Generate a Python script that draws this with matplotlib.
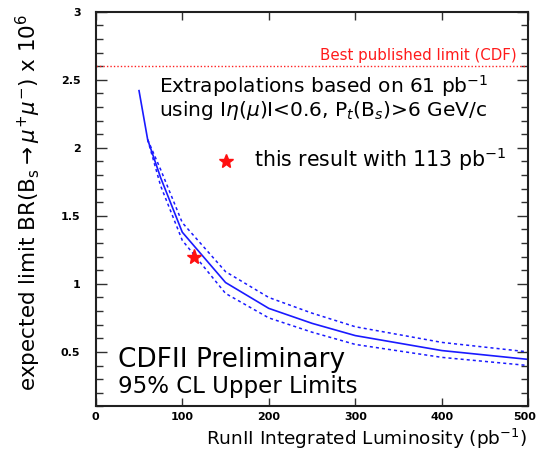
import matplotlib
matplotlib.use("Agg")
import matplotlib.pyplot as plt
import matplotlib.transforms as mtransforms
from matplotlib.ticker import MultipleLocator

# Data
lumi_central = [50, 60, 75, 100, 150, 200, 250, 300, 400, 500]
limit_central = [2.42, 2.06, 1.78, 1.38, 1.01, 0.82, 0.71, 0.62, 0.51, 0.445]
lumi_band = [60, 75, 100, 150, 200, 250, 300, 400, 500]
limit_upper = [2.06, 1.84, 1.45, 1.09, 0.90, 0.785, 0.685, 0.57, 0.50]
limit_lower = [2.06, 1.72, 1.32, 0.93, 0.75, 0.645, 0.555, 0.46, 0.40]
result_lumi = [113]
result_limit = [1.20]
best_published = 2.6

plt.rcParams['font.family'] = ['DejaVu Sans']
plt.rcParams['mathtext.fontset'] = 'dejavusans'

fig = plt.figure(figsize=(5.38, 4.51), dpi=100)
ax = fig.add_axes([0.178, 0.099, 0.804, 0.875])

blue = '#1a1aff'
ax.plot(lumi_central, limit_central, color=blue, lw=1.2)
ax.plot(lumi_band, limit_upper, color=blue, lw=1.1, ls=(0, (2, 2)))
ax.plot(lumi_band, limit_lower, color=blue, lw=1.1, ls=(0, (2, 2)))
ax.axhline(best_published, color='#ff2020', lw=1.0, ls=(0, (1, 1.5)))
ax.plot(result_lumi, result_limit, marker='*', color='#ff1010', ms=11, ls='none')

ax.set_xlim(0, 500)
ax.set_ylim(0.1, 3.0)
ax.set_xticks([0, 100, 200, 300, 400, 500])
ax.yaxis.set_minor_locator(MultipleLocator(0.1))
ax.set_yticks([0.5, 1, 1.5, 2, 2.5, 3])
ax.set_yticklabels(['0.5', '1', '1.5', '2', '2.5', '3'])
ax.tick_params(axis='both', which='both', direction='in', top=True, right=True,
               colors='#303030')
ax.tick_params(axis='x', which='major', length=6, width=1, pad=4, labelsize=8)
ax.tick_params(axis='y', which='major', length=8, width=1, pad=11, labelsize=8)
ax.tick_params(axis='y', which='minor', length=5, width=1)
for lab in ax.get_xticklabels() + ax.get_yticklabels():
    lab.set_fontweight('bold')
    lab.set_color('black')
# nudge the last x tick label so it stays inside the figure
last = ax.get_xticklabels()[-1]
last.set_transform(last.get_transform() +
                   mtransforms.ScaledTranslation(-4 / 100, 0, fig.dpi_scale_trans))
for s in ax.spines.values():
    s.set_linewidth(1.5)
    s.set_color('#202020')

ax.text(487, 2.645, 'Best published limit (CDF)', color='#ff1a1a', fontsize=10.8,
        ha='right', va='baseline')
ax.text(72.7, 2.405, r'Extrapolations based on 61 pb$^{-1}$', fontsize=14.5,
        ha='left', va='baseline')
ax.text(72.7, 2.235, r'using I$\eta(\mu)$I<0.6, P$_t$(B$_s$)>6 GeV/c', fontsize=14.5,
        ha='left', va='baseline')
ax.plot([150], [1.905], marker='*', color='#ff1010', ms=10, ls='none')
ax.text(183, 1.86, r'this result with 113 pb$^{-1}$', fontsize=14.8,
        ha='left', va='baseline')
ax.text(25.8, 0.39, 'CDFII Preliminary', fontsize=19, ha='left', va='baseline')
ax.text(25.8, 0.196, '95% CL Upper Limits', fontsize=16.5, ha='left', va='baseline')

fig.text(0.98, 1 - 445 / 451, r'RunII Integrated Luminosity (pb$^{-1}$)',
         fontsize=13.3, ha='right', va='baseline')
fig.text(0.052, 0.552,
         r'expected limit BR(B$_{\rm s}$$\rightarrow$$\mu^{+}\mu^{-}$) x 10$^{6}$',
         rotation=90, fontsize=15.5, ha='center', va='center')

fig.savefig('out.png', dpi=100)
